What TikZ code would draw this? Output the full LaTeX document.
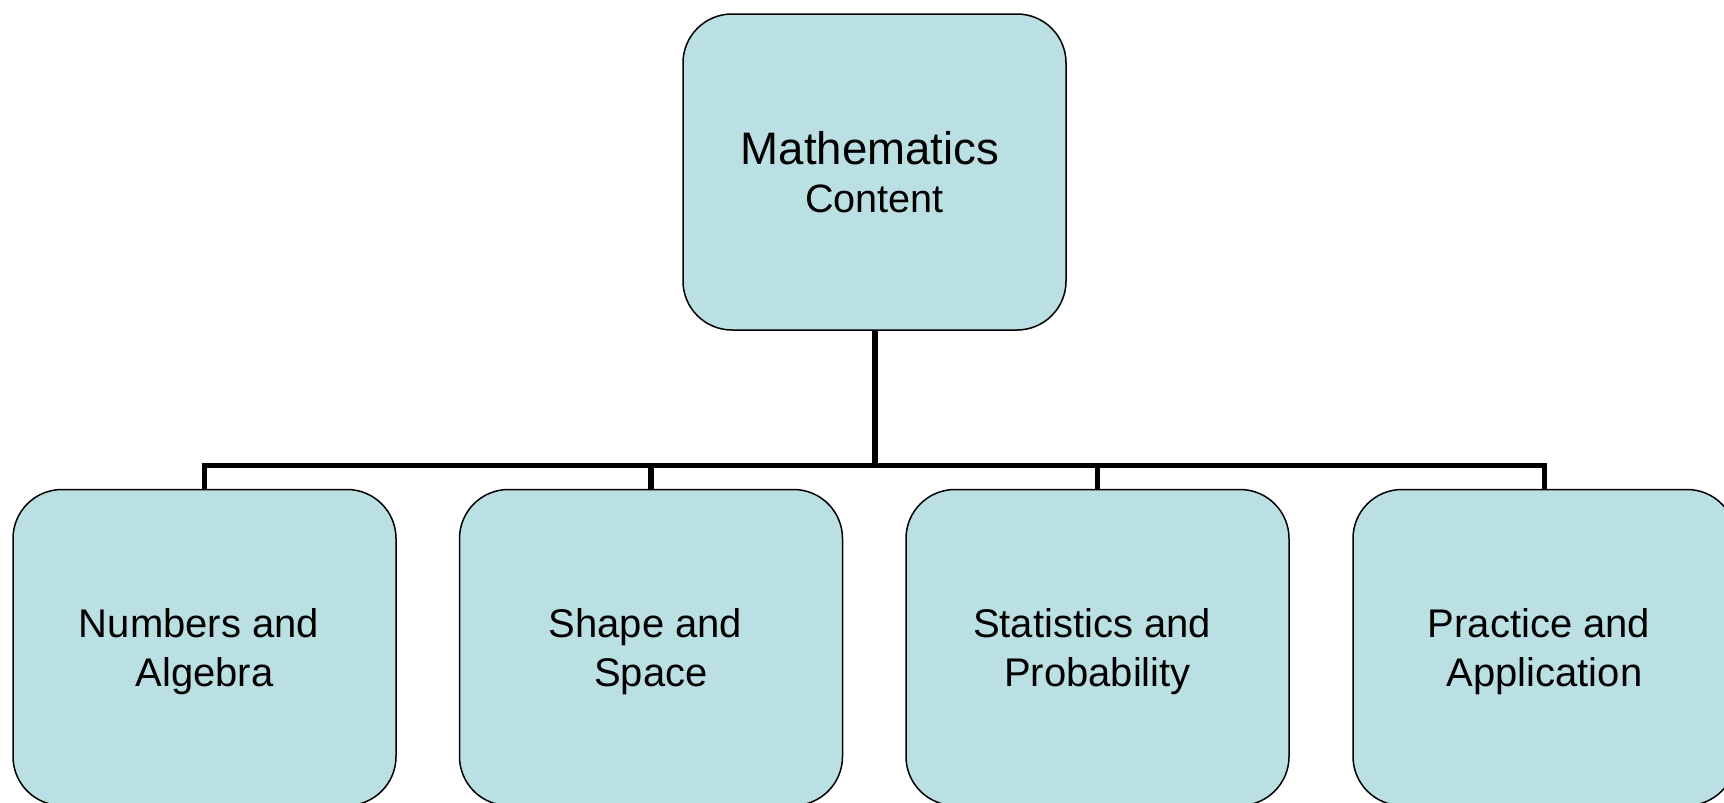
\documentclass[tikz,border=0pt]{standalone}
\usepackage{fontspec}
\setmainfont{Liberation Sans}
\definecolor{boxfill}{HTML}{BBE0E3}
\newcommand{\tsp}{\hspace*{0.278em}}
\begin{document}
\begin{tikzpicture}[x=0.5pt,y=-0.5pt,
  orgbox/.style={draw=black, line width=0.75pt, fill=boxfill, rounded corners=24.5pt,
    minimum width=191.5pt, minimum height=158pt, inner sep=0pt, align=center,
    font=\fontsize{20pt}{24.5pt}\selectfont},
  subbox/.style={orgbox, text depth=0pt},
  conn/.style={draw=black, line width=2.7pt}]
\useasboundingbox (0,0) rectangle (1724,803);
\node[orgbox, font=\fontsize{22.8pt}{24pt}\selectfont] (top) at (874.5,172) {Mathematics\hspace*{4.5pt}\\{\fontsize{19.8pt}{24pt}\selectfont Content}};
\node[subbox] (b1) at (204.5,647.5) {Numbers and\tsp\\Algebra};
\node[subbox] (b2) at (651,647.5) {Shape and\tsp\\Space};
\node[subbox] (b3) at (1097.5,647.5) {Statistics and\tsp\\Probability};
\node[subbox] (b4) at (1544.5,647.5) {Practice and\tsp\\Application};
\coordinate (bus) at (874.5,465.5);
\draw[conn, line width=3pt] (top.south) -- (top.south |- bus);
\draw[conn, line join=miter] (b1.north) -- (b1.north |- bus) -- (b4.north |- bus) -- (b4.north);
\draw[conn] (b2.north) -- (b2.north |- bus);
\draw[conn] (b3.north) -- (b3.north |- bus);
\end{tikzpicture}
\end{document}
